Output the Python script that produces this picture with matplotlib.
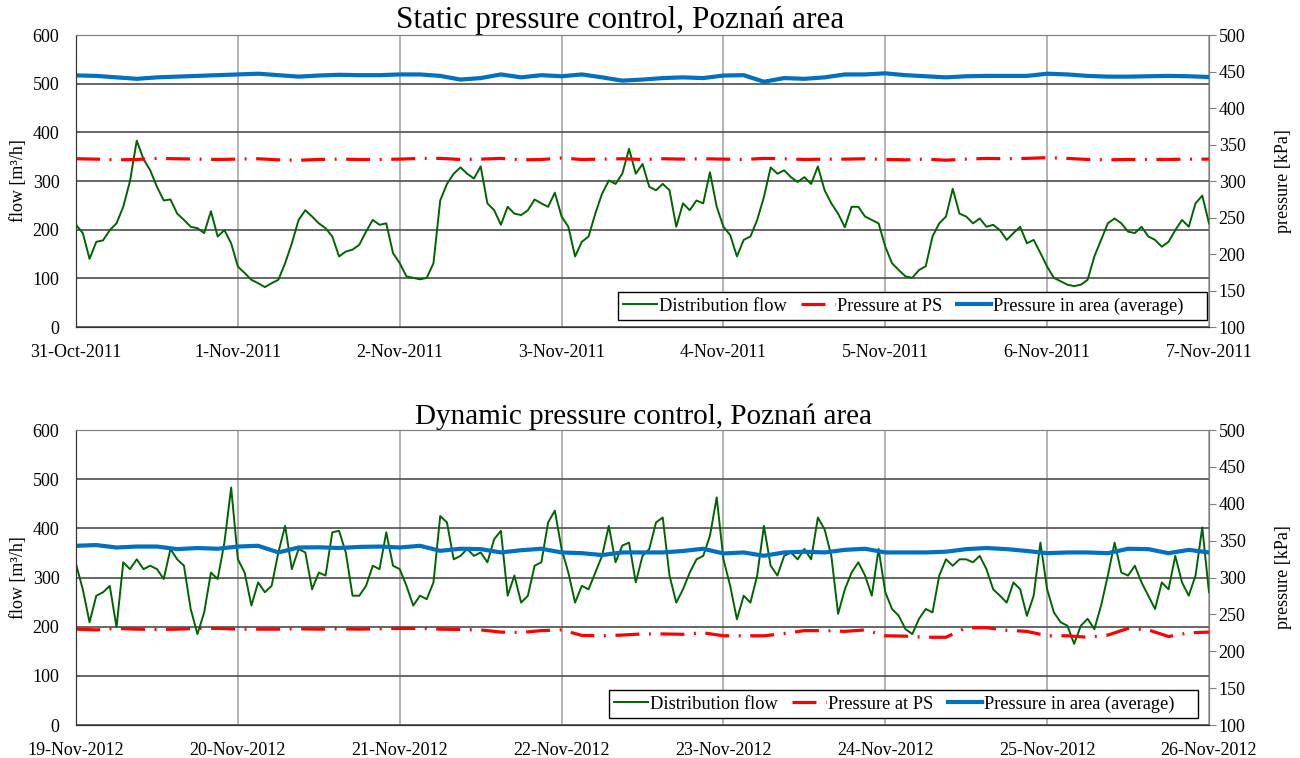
import numpy as np
import matplotlib.pyplot as plt
from matplotlib import rcParams

rcParams['font.family'] = ['Liberation Serif', 'DejaVu Serif']
rcParams['font.size'] = 13

# hourly flow samples [m3/h], 7 days
hours = np.arange(169)
flow_2011 = [210, 193, 140, 175, 178, 199, 213, 247, 300, 383, 345, 322,
             288, 260, 262, 233, 220, 206, 203, 193, 238, 186, 199, 172,
             124, 111, 97, 90, 82, 90, 97, 131, 172, 220, 240, 227,
             213, 203, 186, 145, 155, 159, 169, 196, 220, 210, 213, 152,
             131, 104, 101, 98, 101, 131, 260, 294, 315, 328, 315, 305,
             330, 254, 240, 210, 247, 233, 230, 240, 262, 254, 247, 276,
             227, 206, 145, 175, 186, 233, 274, 301, 294, 315, 366, 315,
             335, 288, 281, 294, 281, 206, 254, 240, 260, 254, 318, 247,
             206, 189, 145, 179, 186, 220, 267, 328, 315, 322, 308, 298,
             308, 294, 330, 281, 254, 233, 205, 247, 247, 227, 220, 213,
             165, 131, 117, 104, 101, 117, 125, 186, 213, 227, 284, 233,
             227, 213, 223, 206, 210, 199, 179, 193, 206, 172, 179, 152,
             124, 101, 94, 87, 84, 87, 97, 145, 179, 213, 223, 213,
             196, 193, 206, 186, 179, 165, 175, 199, 220, 206, 254, 270,
             213]
flow_2012 = [327, 276, 209, 263, 270, 283, 199, 331, 317, 337, 317, 324,
             317, 297, 358, 337, 324, 236, 185, 229, 310, 297, 371, 483,
             337, 310, 243, 290, 270, 283, 351, 405, 317, 358, 351, 276,
             310, 304, 392, 395, 351, 263, 263, 283, 324, 317, 392, 324,
             317, 283, 243, 263, 256, 290, 425, 412, 337, 344, 358, 344,
             351, 331, 378, 395, 263, 304, 249, 263, 324, 331, 412, 436,
             358, 310, 249, 283, 276, 310, 344, 405, 331, 365, 371, 290,
             344, 358, 412, 422, 304, 249, 276, 310, 337, 344, 385, 463,
             337, 283, 215, 263, 249, 304, 405, 324, 304, 344, 351, 337,
             358, 337, 422, 398, 344, 226, 276, 310, 331, 304, 263, 358,
             270, 236, 222, 195, 185, 216, 236, 229, 304, 337, 324, 337,
             337, 331, 344, 317, 276, 263, 249, 290, 276, 222, 263, 371,
             276, 229, 209, 202, 165, 202, 216, 195, 243, 304, 371, 310,
             304, 324, 290, 263, 236, 290, 276, 344, 290, 263, 304, 402,
             270]

# pressures [kPa], every 3 hours
p_hours = np.arange(0, 169, 3)
ps_2011 = [330.5, 330, 329, 329.5, 331, 330.5, 330, 329.5, 330, 330.5, 329, 328.5, 329.5, 330, 329.5,
           329.5, 330, 331, 331, 329.5, 330, 331, 329, 329.5, 331.5, 329.5, 330, 330.5, 329.5,
           330.5, 330, 330.5, 330, 329.5, 331, 330.5, 329.5, 330, 330, 330.5, 329.5, 329, 330,
           328.5, 330, 331, 330.5, 331, 332, 331, 329.5, 329, 329.5, 329.5, 329.5, 330, 330]
area_2011 = [444.7, 444, 442, 440, 442, 443, 444, 445, 446, 447, 445, 443, 444.5, 445.5, 445,
             445, 446, 446, 444, 439, 441, 446, 442, 445, 443.5, 446, 442, 437.5, 439,
             441, 442, 441, 444.5, 445, 436, 441, 440, 442, 446, 446, 447.5, 445, 443.5,
             442, 443.5, 444, 444, 444, 447, 446, 444, 443, 443, 443.5, 444, 443.5, 442.5]
ps_2012 = [230, 229, 231, 230, 229.5, 230, 231, 231, 230, 230, 230, 230.5, 230, 230.5, 230,
           230.5, 231, 231, 230, 229.5, 229, 226, 225.5, 228, 229, 221.5, 221, 222, 223.5,
           223.5, 223, 225, 221, 221, 221, 224, 228, 228, 227, 229, 221, 220.5, 219,
           219, 232, 232, 228.5, 227, 221, 221, 219, 222, 231, 229, 220, 225, 226]
area_2012 = [343, 344, 340.7, 342, 342, 338.5, 340, 339, 342, 343, 334, 340.7, 341, 340, 341.5,
             342, 340.7, 343, 336.2, 339, 338.5, 334, 337, 339, 334, 333, 330.5, 334, 334,
             334, 336, 339, 332.6, 334, 329.5, 334, 335, 334, 337.5, 339, 334, 334, 334,
             335, 338.5, 340, 338.5, 336, 333, 334, 334, 333, 339, 338.5, 333, 337.5, 334]

days_2011 = ['31-Oct-2011', '1-Nov-2011', '2-Nov-2011', '3-Nov-2011',
             '4-Nov-2011', '5-Nov-2011', '6-Nov-2011', '7-Nov-2011']
days_2012 = ['19-Nov-2012', '20-Nov-2012', '21-Nov-2012', '22-Nov-2012',
             '23-Nov-2012', '24-Nov-2012', '25-Nov-2012', '26-Nov-2012']

fig = plt.figure(figsize=(13, 7.58), dpi=100)
ax_top = fig.add_axes([0.0585, 0.5686, 0.8715, 0.3852])
ax_bot = fig.add_axes([0.0585, 0.0435, 0.8715, 0.3892])


def panel(ax, flow, ps, area, days, title, title_x, title_fs, leg_x):
    ax.set_xlim(0, 168)
    ax.set_ylim(0, 600)
    ax.set_yticks(np.arange(0, 601, 100))
    ax.set_xticks(np.arange(0, 169, 24))
    ax.set_xticklabels(days)
    ax.tick_params(axis='both', length=0)
    ax.tick_params(axis='y', pad=12)
    ax.tick_params(axis='x', pad=12)
    ax.yaxis.grid(True, color='#5a5a5a', lw=1.3)
    ax.xaxis.grid(True, color='#a6a6a6', lw=1.2)
    ax.set_axisbelow(True)
    l1, = ax.plot(hours, flow, color='#006400', lw=1.4, label='Distribution flow')
    ax.set_ylabel('flow [m³/h]', labelpad=4)
    ax.set_title(title, fontsize=title_fs, pad=2, x=title_x)

    tw = ax.twinx()
    tw.set_ylim(100, 500)
    tw.set_yticks(np.arange(100, 501, 50))
    tw.tick_params(axis='y', length=5, color='#808080', pad=2)
    l2, = tw.plot(p_hours, ps, color='#ff0000', lw=2.3,
                  linestyle=(0, (7.5, 3, 0.6, 3)), label='Pressure at PS')
    l3, = tw.plot(p_hours, area, color='#0070c0', lw=3.0,
                  label='Pressure in area (average)    ')
    tw.set_ylabel('pressure [kPa]', labelpad=21)
    for a in (ax, tw):
        for s in a.spines.values():
            s.set_color('#808080')
        a.spines['left'].set_color('#333333')
        a.spines['bottom'].set_color('#333333')
    tw.legend(handles=[l1, l2, l3], loc='lower right', ncol=3, fontsize=13.2,
              bbox_to_anchor=(leg_x, 0.024),
              frameon=True, fancybox=False, framealpha=1, edgecolor='black',
              handlelength=1.85, handletextpad=0.1, columnspacing=0.8,
              borderpad=0.28, borderaxespad=0)


panel(ax_top, flow_2011, ps_2011, area_2011, days_2011,
      'Static pressure control, Poznań area', 0.48, 22.5, 0.998)
panel(ax_bot, flow_2012, ps_2012, area_2012, days_2012,
      'Dynamic pressure control, Poznań area', 0.501, 21, 0.990)

fig.savefig('out.png', dpi=100)
